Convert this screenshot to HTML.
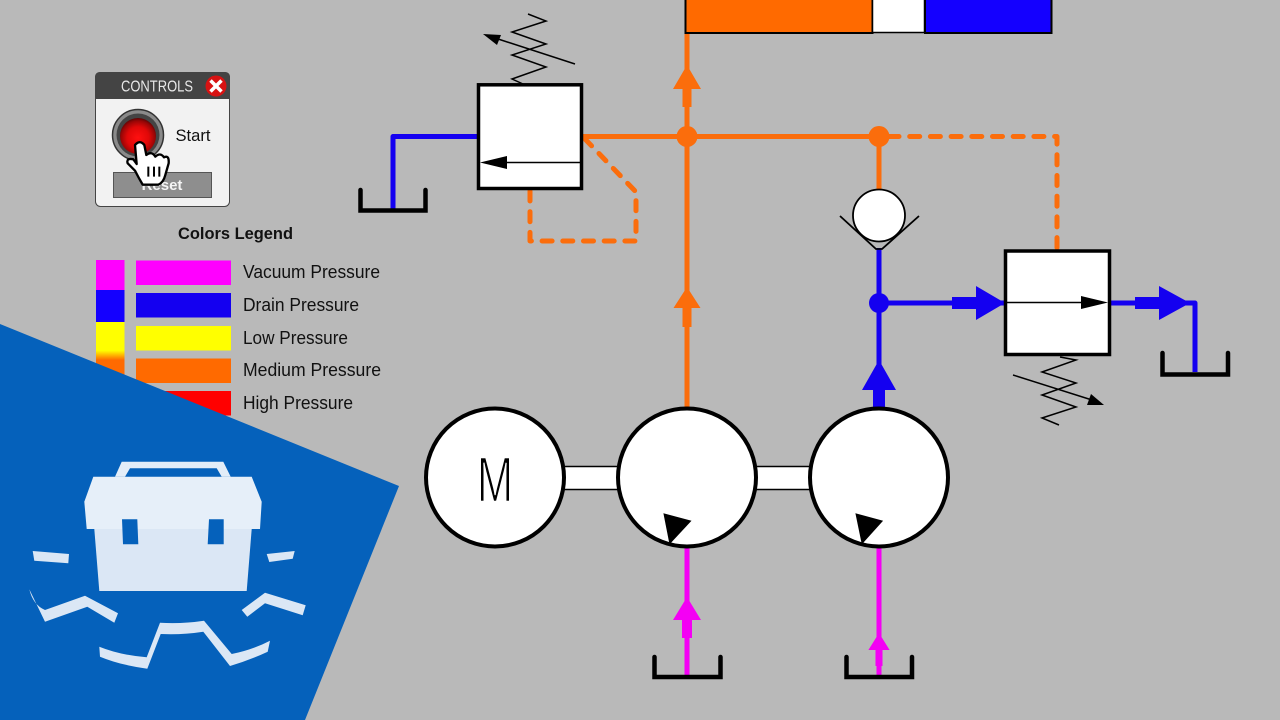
<!DOCTYPE html>
<html><head><meta charset="utf-8"><style>
html,body{margin:0;padding:0;background:#b9b9b9}
svg{display:block}
text{font-family:"Liberation Sans",sans-serif}
</style></head><body>
<svg xmlns="http://www.w3.org/2000/svg" width="1280" height="720" viewBox="0 0 1280 720">
<defs>
<linearGradient id="sw" x1="0" y1="0" x2="0" y2="1">
<stop offset="0" stop-color="#ffff00"/><stop offset=".75" stop-color="#ffff00"/><stop offset="1" stop-color="#ff6a00"/>
</linearGradient>
<radialGradient id="btn" cx=".5" cy=".55" r=".55">
<stop offset="0" stop-color="#ff1010"/><stop offset=".55" stop-color="#e00808"/><stop offset=".85" stop-color="#9a0606"/><stop offset="1" stop-color="#5a0505"/>
</radialGradient>
</defs>
<rect width="1280" height="720" fill="#b9b9b9"/>

<!-- actuator -->
<rect x="685.5" y="-4" width="187" height="37" fill="#ff6a00" stroke="#000" stroke-width="2"/>
<rect x="872.5" y="-4" width="52" height="36.5" fill="#fff" stroke="#000" stroke-width="1.5"/>
<rect x="925" y="-4" width="126.5" height="37" fill="#1400ff" stroke="#000" stroke-width="2"/>

<!-- orange lines -->
<g fill="none" stroke="#fb6d0c" stroke-width="5">
<path d="M687 34V408M583 136.5H879M879 136V192"/>
<path d="M889 136.5H1057V250" stroke-dasharray="10 10.7" stroke-linecap="round" stroke-linejoin="round"/>
<path d="M530 191V241H636V192L585 139" stroke-dasharray="10 10.7" stroke-linecap="round" stroke-linejoin="round"/>
</g>
<g fill="#fb6d0c">
<circle cx="687" cy="136.5" r="10.5"/><circle cx="879" cy="136.5" r="10.5"/>
<path d="M687 65L701 89H691.5V107H682.5V89H673Z"/>
<path d="M687 287L700.5 308H691.5V327H682.5V308H673.5Z"/>
</g>

<!-- blue lines -->
<g fill="none" stroke="#1400f0" stroke-width="5">
<path d="M478 136.5H393V210" stroke-linejoin="round"/>
<path d="M879 248V408M879 303H1005M1110 303H1195V372" stroke-linejoin="round"/>
</g>
<g fill="#1400f0">
<circle cx="879" cy="303" r="10"/>
<path d="M879 360L896 390H885V408H873V390H862Z"/>
<path d="M952 297H976V286L1005 303L976 320V309H952Z"/>
<path d="M1135 297H1159V286L1190 303L1159 320V309H1135Z"/>
</g>

<!-- magenta lines -->
<g fill="#f400f4">
<rect x="684.5" y="546" width="5" height="132"/>
<rect x="876.5" y="546" width="5" height="132"/>
<path d="M687 597L701 620H692V638H682V620H673Z"/>
<path d="M879 633L889.6 650H882.5V666H875.5V650H868.4Z"/>
</g>

<!-- tanks -->
<g fill="none" stroke="#000" stroke-width="4.500" stroke-linecap="round" stroke-linejoin="miter">
<path d="M360.500 190V210.500H425.500V190"/>
<path d="M1162.500 353V374.500H1228V353"/>
<path d="M654.500 657V677H720.500V657"/>
<path d="M846.500 657V677H912V657"/>
</g>

<!-- left valve -->
<rect x="478.500" y="84.800" width="103" height="103.700" fill="#fff" stroke="#000" stroke-width="3.500"/>
<path d="M581 162.500H500" stroke="#000" stroke-width="1.500"/>
<path d="M480 162.500L507 156V169Z" fill="#000"/>
<path d="M528 14L546 21L512 32L546 44L512 55L546 67L512 79L523 84" fill="none" stroke="#000" stroke-width="1.500"/>
<path d="M575 64L495 38" stroke="#000" stroke-width="1.500"/>
<path d="M483 34L501 35L497 45Z" fill="#000"/>

<!-- right valve -->
<rect x="1005.500" y="251" width="104" height="103.500" fill="#fff" stroke="#000" stroke-width="3.500"/>
<path d="M1006 302.500H1085" stroke="#000" stroke-width="1.500"/>
<path d="M1108 302.500L1081 296V309Z" fill="#000"/>
<path d="M1060 357L1076 360L1042 372L1076 383L1042 395L1076 407L1042 418L1059 425" fill="none" stroke="#000" stroke-width="1.500"/>
<path d="M1013 375L1092 400" stroke="#000" stroke-width="1.500"/>
<path d="M1104 405L1087 405L1091 394Z" fill="#000"/>

<!-- check valve -->
<path d="M840 216L876 249H882L919 216" fill="none" stroke="#000" stroke-width="1.800"/>
<circle cx="879" cy="215.500" r="26" fill="#fff" stroke="#000" stroke-width="1.800"/>

<!-- shafts -->
<rect x="560" y="466.500" width="64" height="23" fill="#fff" stroke="#000" stroke-width="1.500"/>
<rect x="752" y="466.500" width="64" height="23" fill="#fff" stroke="#000" stroke-width="1.500"/>

<!-- motor and pumps -->
<g fill="#fff" stroke="#000" stroke-width="4">
<circle cx="495" cy="477.500" r="69"/>
<circle cx="687" cy="477.500" r="69"/>
<circle cx="879" cy="477.500" r="69"/>
</g>
<text transform="translate(495 501.400) scale(.68 1)" text-anchor="middle" font-size="64" fill="#000" stroke="#fff" stroke-width="1.600">M</text>
<path d="M663.400 513.200L691.500 520.700L669.500 544.400Z" fill="#000"/>
<path d="M855.400 513.200L883.100 520.700L861.800 544.400Z" fill="#000"/>

<!-- controls -->
<rect x="95.500" y="72.500" width="134" height="134" rx="5" fill="#f2f2f2" stroke="#444" stroke-width="1"/>
<path d="M95 99V77.500Q95 72 100.500 72H224.500Q230 72 230 77.500V99Z" fill="#444"/>
<text x="121" y="91.500" font-size="15.500" fill="#e8e8e8" textLength="72" lengthAdjust="spacingAndGlyphs">CONTROLS</text>
<circle cx="216" cy="86" r="10.500" fill="#d81212"/>
<path d="M210.500 80.500L221.500 91.500M221.500 80.500L210.500 91.500" stroke="#fff" stroke-width="3.500"/>
<circle cx="138" cy="135" r="25.500" fill="#8a8a8a" stroke="#333" stroke-width="1.500"/>
<circle cx="138" cy="135" r="21.500" fill="#444"/>
<circle cx="138" cy="136" r="18" fill="url(#btn)"/>
<text x="175.500" y="141" font-size="16.500" fill="#111" textLength="35" lengthAdjust="spacingAndGlyphs">Start</text>
<rect x="113.500" y="172.500" width="98" height="25" fill="#8e8e8e" stroke="#555" stroke-width="1"/>
<text x="162" y="190" text-anchor="middle" font-size="15" font-weight="bold" fill="#f4f4f4">Reset</text>
<g transform="translate(80 60) scale(.3333)">
<path d="M165 255Q180 238 193 255L199 285Q215 272 226 290Q241 276 252 292Q268 284 266 310L256 345Q250 368 235 374L188 374Q175 352 165 332L143 310Q138 293 160 298L170 312Z" fill="#fff" stroke="#000" stroke-width="7" stroke-linejoin="round"/>
<path d="M205 320V350M222 320V350M238 320V350" stroke="#000" stroke-width="6"/>
</g>

<!-- legend -->
<text x="235.500" y="239" text-anchor="middle" font-size="17" font-weight="bold" fill="#111" textLength="115" lengthAdjust="spacingAndGlyphs">Colors Legend</text>
<rect x="96" y="260" width="28.500" height="30" fill="#ff00ff"/>
<rect x="96" y="290" width="28.500" height="32" fill="#1400ff"/>
<rect x="96" y="322" width="28.500" height="38" fill="url(#sw)"/>
<rect x="96" y="360" width="28.500" height="30" fill="#ff6a00"/>
<rect x="136" y="260.500" width="95" height="24.500" fill="#ff00ff"/>
<rect x="136" y="293" width="95" height="24.500" fill="#1400f0"/>
<rect x="136" y="326" width="95" height="24.500" fill="#ffff00"/>
<rect x="136" y="358.500" width="95" height="24.500" fill="#ff6a00"/>
<rect x="136" y="391" width="95" height="24.500" fill="#ff0000"/>
<g font-size="18" fill="#111">
<text x="243" y="278" textLength="137" lengthAdjust="spacingAndGlyphs">Vacuum Pressure</text>
<text x="243" y="311" textLength="116" lengthAdjust="spacingAndGlyphs">Drain Pressure</text>
<text x="243" y="344" textLength="105" lengthAdjust="spacingAndGlyphs">Low Pressure</text>
<text x="243" y="376" textLength="138" lengthAdjust="spacingAndGlyphs">Medium Pressure</text>
<text x="243" y="409" textLength="110" lengthAdjust="spacingAndGlyphs">High Pressure</text>
</g>

<!-- blue corner -->
<path d="M0 324L399 486L305 720H0Z" fill="#0561bb"/>
<path d="M115 476.700L121.700 461.700H223.300L230.700 476.700H221.700L216.700 468.300H130L125 476.700Z" fill="#e3edf8"/>
<path d="M93.300 476.700H251.700L261.700 501.700L260 529H86.700L84.300 501.700Z" fill="#e6eff9"/>
<path d="M94.300 529H251.700L246.700 591H99.300Z" fill="#dbe7f5"/>
<path d="M122 519.300H137.300L138.300 544.300H123ZM209 519.300H223.700V544.300H207.700Z" fill="#0561bb"/>
<g fill="#dbe7f5">
<path d="M32.700 551L69 554L68.300 563.300L34.300 560.700Z"/>
<path d="M266.700 554L294.700 551L292.700 558.700L269.300 562Z"/>
<path d="M29.300 589.300L45 621.700L87.300 606.700L114.300 622.700L118 613.300L85 595.700L45 610Q33 605 29.300 589.300Z"/>
<path d="M241.700 610L265 592.700L305.700 605.300L302.700 615.300L265 603.300L247.300 616.700Z"/>
<path d="M99.300 646.700Q120 655 146.700 657.300L160 622.700Q182 624 204 620.700L231.700 654Q252 650 270 640.700L267.700 651.700Q250 660 230 666L203.300 631.700Q182 635 160.700 634L147.300 668.700Q120 665 100 656.700Z"/>
</g>
</svg>
</body></html>
